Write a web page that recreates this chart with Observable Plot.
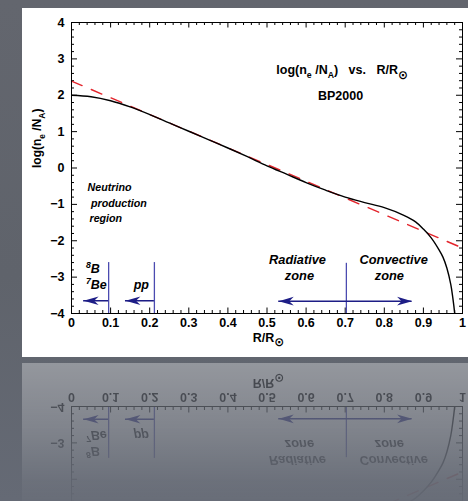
<!DOCTYPE html>
<html><head><meta charset="utf-8">
<script src="https://cdn.jsdelivr.net/npm/d3@7"></script>
<script src="https://cdn.jsdelivr.net/npm/@observablehq/plot@0.6"></script>
<style>
html,body{margin:0;padding:0;width:468px;height:501px;overflow:hidden;background:#60646c;}
#stage{position:relative;width:468px;height:501px;overflow:hidden;
  background:linear-gradient(180deg,#63666e 0%,#5f636b 55%,#656a75 100%);}
#chart{position:absolute;left:22px;top:8px;}
#reflect{position:absolute;left:22px;top:363px;transform:scaleY(-1);opacity:0.32;filter:blur(0.7px);
  -webkit-mask-image:linear-gradient(to top,rgba(0,0,0,1) 0%,rgba(0,0,0,0.6) 18%,rgba(0,0,0,0.15) 34%,rgba(0,0,0,0) 44%);
  mask-image:linear-gradient(to top,rgba(0,0,0,1) 0%,rgba(0,0,0,0.6) 18%,rgba(0,0,0,0.15) 34%,rgba(0,0,0,0) 44%);}
</style>
</head><body>
<div id="stage"><div id="chart"></div><div id="reflect"></div></div>
<script>
// ---- data ----
const radius = [0, 0.05, 0.1, 0.15, 0.2, 0.25, 0.3, 0.35, 0.4, 0.45, 0.5, 0.55, 0.6, 0.65, 0.7, 0.75, 0.8, 0.85, 0.88, 0.9, 0.92, 0.94, 0.95, 0.96, 0.97, 0.975, 0.98, 0.982];
const logNe  = [2.00, 1.96, 1.85, 1.68, 1.47, 1.24, 1.01, 0.78, 0.55, 0.31, 0.06, -0.17, -0.40, -0.61, -0.80, -0.95, -1.09, -1.30, -1.48, -1.68, -1.92, -2.25, -2.45, -2.75, -3.2, -3.55, -4.0, -4.3];
const fitR   = [0, 1];
const fitLog = [2.39, -2.2];

const dividerR   = [0.095, 0.212, 0.703];
const dividerTop = [-2.6, -2.6, -2.62];
const dividerBottom = [-4, -4, -4];

const arrowFrom = [0.095, 0.212, 0.53];
const arrowTo   = [0.031, 0.138, 0.871];
const arrowY    = [-3.65, -3.65, -3.66];
const headX     = [0.031, 0.138, 0.53, 0.871];
const headY     = [-3.65, -3.65, -3.66, -3.66];
const headAngle = [180, 180, 180, 0];

const xTicks = [0, 0.1, 0.2, 0.3, 0.4, 0.5, 0.6, 0.7, 0.8, 0.9, 1];
const xTickLabels = ["0", "0.1", "0.2", "0.3", "0.4", "0.5", "0.6", "0.7", "0.8", "0.9", "1"];
const yTicks = [-4, -3, -2, -1, 0, 1, 2, 3, 4];

const smallNotes = ["Neutrino", "production", "region"];
const smallNoteX = [0.041, 0.050, 0.046];
const smallNoteY = [-0.53, -0.965, -1.38];

const leftNotes = ["^{8}B", "^{7}Be", "pp"];
const leftNoteX = [0.037, 0.037, 0.159];
const leftNoteY = [-2.77, -3.21, -3.21];

const zoneNotes = ["Radiative", "zone", "Convective", "zone"];
const zoneNoteX = [0.578, 0.583, 0.824, 0.813];
const zoneNoteY = [-2.52, -2.97, -2.52, -2.97];

const titleLines = ["log(n_{e} /N_{A})\u00a0\u00a0 vs.\u00a0\u00a0 R/R_{⊙}", "BP2000"];
const titleX = [0.692, 0.688];
const titleY = [2.69, 1.97];

const xLabel = "R/R_{⊙}";
const yLabel = "log(n_{e} /N_{A})";

// ---- tables ----
const curve = radius.map((r, i) => ({r, v: logNe[i]}));
const fit = fitR.map((r, i) => ({r, v: fitLog[i]}));
const dividers = dividerR.map((r, i) => ({r, top: dividerTop[i], bottom: dividerBottom[i]}));
const shafts = arrowFrom.map((a, i) => ({x1: a, x2: arrowTo[i], y: arrowY[i]}));
const heads = headX.map((x, i) => ({x, y: headY[i], a: headAngle[i]}));
const mk = (t, xs, ys) => t.map((s, i) => ({s, x: xs[i], y: ys[i]}));

const xMinor = d3.range(0, 1.0001, 0.02).filter(v => Math.abs(v * 10 - Math.round(v * 10)) > 1e-6);
const yMinor = d3.range(-4, 4.0001, 0.2).filter(v => Math.abs(v - Math.round(v)) > 1e-6);

const W = 446, H = 349, ML = 49, MT = 14, MR = 6, MB = 44;
const iw = W - ML - MR, ih = H - MT - MB;

const arrowHead = {draw(ctx) {
  ctx.moveTo(0, 0); ctx.lineTo(-15, -4.3); ctx.lineTo(-10.5, 0); ctx.lineTo(-15, 4.3); ctx.closePath();
}};

const navy = "#1d1d86", lineBlue = "#4b4bb0";
const FONT = "'Liberation Sans', Arial, Helvetica, sans-serif";

const svg = Plot.plot({
  width: W, height: H,
  marginLeft: ML, marginTop: MT, marginRight: MR, marginBottom: MB,
  x: {domain: [0, 1]},
  y: {domain: [-4, 4]},
  style: {background: "white", fontFamily: FONT, fontWeight: "bold", fontSize: "12.5px", color: "black"},
  marks: [
    Plot.axisX({ticks: xTicks, tickFormat: d => xTickLabels[xTicks.indexOf(d)], tickSize: 0, tickPadding: 5, label: null, fontSize: 12.5, fontWeight: "bold"}),
    Plot.axisY({ticks: yTicks, tickFormat: d => d < 0 ? "\u2212" + Math.abs(d) : String(d), tickSize: 0, tickPadding: 7, label: null, fontSize: 12.5, fontWeight: "bold"}),
    // inward ticks on all four sides
    Plot.tickX(xTicks, {x: d => d, insetTop: ih - 5.5, stroke: "black"}),
    Plot.tickX(xMinor, {x: d => d, insetTop: ih - 3, stroke: "black"}),
    Plot.tickX(xTicks, {x: d => d, insetBottom: ih - 5.5, stroke: "black"}),
    Plot.tickX(xMinor, {x: d => d, insetBottom: ih - 3, stroke: "black"}),
    Plot.tickY(yTicks, {y: d => d, insetRight: iw - 6, stroke: "black"}),
    Plot.tickY(yMinor, {y: d => d, insetRight: iw - 3, stroke: "black"}),
    Plot.tickY(yTicks, {y: d => d, insetLeft: iw - 6, stroke: "black"}),
    Plot.tickY(yMinor, {y: d => d, insetLeft: iw - 3, stroke: "black"}),
    // dividers and arrows
    Plot.ruleX(dividers, {x: "r", y1: "top", y2: "bottom", stroke: lineBlue, strokeWidth: 1.3}),
    Plot.ruleY(shafts, {y: "y", x1: "x1", x2: "x2", stroke: navy, strokeWidth: 1.5}),
    Plot.dot(heads, {x: "x", y: "y", rotate: "a", symbol: arrowHead, r: 5, fill: navy, stroke: "none"}),
    // data
    Plot.line(fit, {x: "r", y: "v", stroke: "#e3242b", strokeWidth: 1.4, strokeDasharray: "11.5,10"}),
    Plot.line(curve, {x: "r", y: "v", stroke: "black", strokeWidth: 1.4, curve: "catmull-rom", clip: true}),
    Plot.frame({stroke: "black", strokeWidth: 1}),
    // text
    Plot.text(mk(smallNotes, smallNoteX, smallNoteY), {x: "x", y: "y", text: "s", textAnchor: "start", fontSize: 10.7, fontStyle: "italic", fontWeight: "bold", fill: "black"}),
    Plot.text(mk(leftNotes, leftNoteX, leftNoteY), {x: "x", y: "y", text: "s", textAnchor: "start", fontSize: 12.5, fontStyle: "italic", fontWeight: "bold", fill: "black"}),
    Plot.text(mk(zoneNotes, zoneNoteX, zoneNoteY), {x: "x", y: "y", text: "s", textAnchor: "middle", fontSize: 12.8, fontStyle: "italic", fontWeight: "bold", fill: "black"}),
    Plot.text(mk(titleLines, titleX, titleY), {x: "x", y: "y", text: "s", textAnchor: "middle", fontSize: 12.5, fontWeight: "bold", fill: "black"}),
    Plot.text([xLabel], {frameAnchor: "bottom", dx: 1.5, dy: 28, fontSize: 12.5, fontWeight: "bold", fill: "black"}),
    Plot.text([yLabel], {frameAnchor: "left", dx: -34, rotate: -90, fontSize: 12, fontWeight: "bold", fill: "black"})
  ]
});

// rich text: _{sub} and ^{sup}
const NS = "http://www.w3.org/2000/svg";
svg.querySelectorAll("text").forEach(el => {
  const s = el.textContent;
  if (!/[_^]\{/.test(s)) return;
  const parts = s.split(/([_^]\{[^}]*\})/).filter(p => p.length);
  while (el.firstChild) el.removeChild(el.firstChild);
  let shift = 0;
  for (const p of parts) {
    const t = document.createElementNS(NS, "tspan");
    let target = 0, txt = p, size = null;
    if (p.startsWith("_{")) { txt = p.slice(2, -1); target = txt === "⊙" ? 4.5 : 3.5; size = txt === "⊙" ? "0.95em" : "0.7em"; }
    else if (p.startsWith("^{")) { txt = p.slice(2, -1); target = -4.5; size = "0.7em"; }
    if (target !== shift) t.setAttribute("dy", target - shift);
    shift = target;
    if (size) t.setAttribute("font-size", size);
    if (txt === "⊙") t.setAttribute("font-family", "'DejaVu Sans', sans-serif");
    t.textContent = txt;
    el.appendChild(t);
  }
});

document.getElementById("chart").appendChild(svg);

// faded mirror reflection below the panel; drop texts that fall past the page
const clone = svg.cloneNode(true);
document.getElementById("reflect").appendChild(clone);
clone.querySelectorAll("text").forEach(t => {
  const r = t.getBoundingClientRect();
  if (r.bottom > 486) t.remove();
});
</script>
</body></html>
